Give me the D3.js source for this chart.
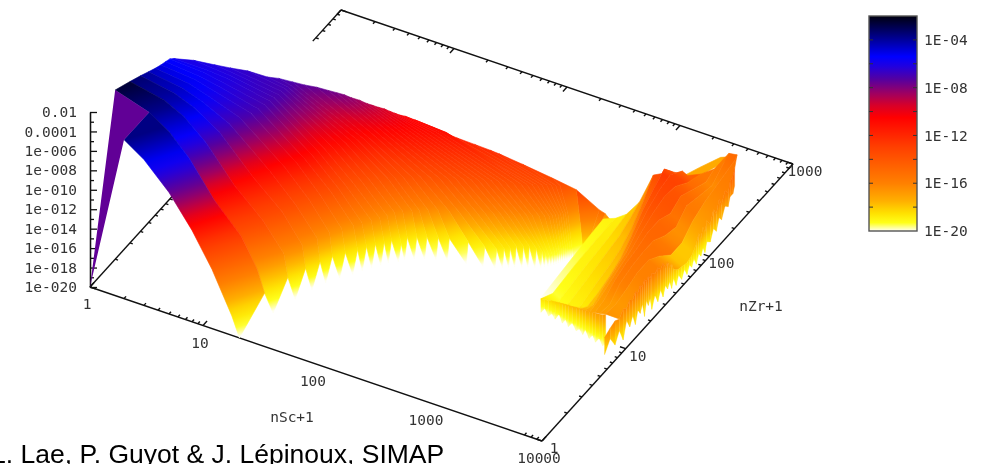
<!DOCTYPE html>
<html><head><meta charset="utf-8">
<script src="https://cdn.jsdelivr.net/npm/d3@7/dist/d3.min.js"></script>
<style>html,body{margin:0;padding:0;background:#fff;overflow:hidden}svg{display:block;filter:blur(.5px)}
text{font-family:"DejaVu Sans Mono",monospace;font-size:14.5px;fill:#333}</style></head><body>
<script>
// ---- axis labels ----
const scTickLabels=[1,10,100,1000,10000];
const zrTickLabels=[1,10,100,1000];
const zExponents=[-2,-4,-6,-8,-10,-12,-14,-16,-18,-20];
const zLabels=["0.01","0.0001","1e-006","1e-008","1e-010","1e-012","1e-014","1e-016","1e-018","1e-020"];
const barLabels=["1E-04","1E-08","1E-12","1E-16","1E-20"];
const barExponents=[-4,-8,-12,-16,-20];
// ---- colour map: exponent -> colour ----
const paletteExp=[-20,-19.3,-18.5,-17.5,-16,-13,-10.5,-9.5,-8.5,-7.3,-6.2,-5.4,-3.5,-2];
const paletteCol=["#fffff0","#ffff18","#ffe000","#ffb000","#ff8000","#ff4000","#ff0000","#d80028","#a00060","#5500a0","#2000e0","#0000ff","#000078","#000010"];
// ---- main surface: one row per nZr+1, each knot is [nSc+1, log10 value] ----
const mainZr=[1,2,3,4,5,6,7,8,9,10,11,12,13,14,15,16,17,18,19,20,21,22,23,24,25,26,27,28,29,30,31,32,33,34,35,36,37,38,39,40,41,47,60,85];
const mainRows=[
[[1,-20],[2,-3.65],[3,-5],[5,-7.5],[8,-10.6],[12,-13.9],[18,-18],[21,-20]],
[[1,-2.6],[2,-3.7],[3,-5],[4.5,-7],[7.6,-10.5],[13,-13.2],[18,-16],[21,-18.25],[25,-20]],
[[1,-3.4],[2,-4.1],[3,-5.1],[4.7,-7],[8.5,-10.5],[15,-13],[23,-15.7],[25,-18],[29,-20]],
[[1,-4],[2,-4.6],[3,-5.4],[5,-7],[10,-10.5],[18,-13],[27,-15.7],[29,-18],[33,-20]],
[[1,-4.5],[2,-5],[3,-5.7],[5.2,-7],[12,-10.5],[20,-13],[31,-15.7],[33,-18],[37,-20]],
[[1,-4.9],[2,-5.3],[3,-5.9],[5.6,-7],[14,-10.5],[23,-13],[35,-15.7],[37,-18],[43,-20]],
[[1,-5.2],[2,-5.5],[3,-6],[6.3,-7],[16,-10.5],[26,-13],[40,-15.7],[43,-18],[50,-20]],
[[1,-5.4],[2,-5.7],[3,-6.1],[6.6,-7],[17,-10.5],[29,-13],[46,-15.7],[50,-18],[55,-20]],
[[1,-5.6],[2,-5.8],[3,-6.2],[6.9,-7],[18,-10.5],[31,-13],[50,-15.7],[55,-18],[61,-20]],
[[1,-6],[2,-6],[3,-6.2],[7.1,-7],[19,-10.5],[33,-13],[56,-15.7],[61,-18],[68,-20]],
[[1.4,-6],[3,-6.3],[7.2,-7],[20,-10.5],[36,-13],[62,-15.7],[68,-18],[74,-20]],
[[2,-6.2],[3,-6.4],[7.4,-7],[22,-10.5],[40,-13],[68,-15.7],[74,-18],[85,-20]],
[[2.6,-6.4],[7.4,-7],[24,-10.5],[44,-13],[74,-15.5],[85,-18.5],[91,-20]],
[[3.5,-6.5],[7.5,-7],[26,-10.5],[50,-13],[83,-15.5],[91,-18],[105,-20]],
[[5,-6.8],[7.6,-7.1],[28,-10.5],[58,-13],[95,-15.5],[105,-18],[123,-20]],
[[6,-6.9],[7.8,-7.2],[30,-10.5],[63,-13],[105,-15.5],[123,-18],[148,-20]],
[[7.6,-7.1],[33,-10.5],[72,-13],[120,-15.5],[148,-18],[178,-20]],
[[9.3,-7.3],[35,-10.5],[83,-13],[141,-15.5],[178,-18],[251,-20]],
[[11.5,-7.4],[39,-10.5],[95,-13],[170,-15.5],[251,-18],[339,-20]],
[[14,-7.6],[42,-10.5],[112,-13],[200,-15.5],[339,-18.2],[417,-20]],
[[16,-7.8],[46,-10.5],[129,-13],[234,-15.5],[417,-18.3],[468,-20]],
[[18,-8],[49,-10.5],[148,-13],[269,-15.5],[468,-18.2],[513,-20]],
[[20,-8.3],[54,-10.5],[170,-13],[309,-15.5],[513,-18.2],[562,-20]],
[[23,-8.5],[58,-10.5],[190,-13],[355,-15.5],[562,-18],[631,-20]],
[[26,-8.8],[60,-10.5],[219,-13],[398,-15.5],[631,-18],[692,-20]],
[[28,-9],[65,-10.5],[245,-13],[447,-15.5],[692,-18],[776,-20]],
[[31,-9.2],[69,-10.5],[269,-13],[490,-15.5],[776,-18.2],[851,-20]],
[[34,-9.35],[74,-10.5],[302,-13],[550,-15.5],[851,-18.5],[891,-20]],
[[37,-9.6],[79,-10.5],[339,-13],[603,-15.5],[891,-18.8],[933,-20]],
[[40,-9.8],[85,-10.5],[380,-13],[661,-15.5],[933,-19],[966,-20]],
[[43,-10],[91,-10.5],[437,-13],[741,-15.5],[966,-19],[1000,-20]],
[[47,-10.1],[100,-10.5],[501,-13],[813,-15.5],[1000,-19],[1023,-20]],
[[56,-10.3],[107,-10.5],[550,-13],[871,-15.5],[1023,-19],[1047,-20]],
[[79,-10.6],[600,-13],[910,-15.5],[1047,-19],[1072,-20]],
[[126,-11],[650,-13],[950,-15.5],[1072,-19],[1096,-20]],
[[178,-11.2],[700,-13],[980,-15.5],[1096,-19],[1122,-20]],
[[240,-11.4],[760,-13],[1010,-15.5],[1122,-19],[1148,-20]],
[[282,-11.6],[820,-13],[1040,-15.5],[1148,-19],[1175,-20]],
[[447,-12],[880,-13],[1070,-15.5],[1175,-19],[1202,-20]],
[[794,-12.5],[940,-13],[1100,-15.5],[1202,-19],[1230,-20]],
[[1288,-13],[1400,-16.5],[1480,-19.5]],
[[1860,-15],[1600,-17.5],[1410,-19.5]],
[[1750,-16.5],[1350,-19.5]],
[[1550,-19],[1350,-20]]
];
// ---- high-nSc lobe: one row per nSc+1, each knot is [nZr+1, log10 value] ----
const lobeSc=[1300,1600,2000,2500,3200,4000,4500,5000,5600,6300,7100];
const lobeRows=[
[[16,-20],[30,-19.6],[55,-19.2],[85,-19]],
[[11.5,-18.6],[16,-19.4],[30,-19],[55,-18.8],[90,-18.8]],
[[11.2,-18.3],[13,-19.3],[22,-18.9],[30,-18.7],[55,-18.4],[90,-18]],
[[10.95,-18.1],[13,-19],[22,-18.6],[30,-18.3],[55,-17.8],[75,-17.2],[95,-16.6]],
[[10.4,-17.8],[13,-18.8],[22,-18.2],[30,-17.9],[40,-17.5],[55,-16.6],[75,-15.2],[100,-13.6]],
[[10,-17.5],[12,-18],[16,-17.8],[22,-17.4],[30,-16.8],[40,-15.8],[55,-14.4],[75,-13.4],[100,-12.6],[125,-13.8]],
[[9.7,-17.3],[12,-17.6],[16,-17],[22,-16.5],[30,-16],[40,-15],[55,-14],[75,-13.3],[100,-13],[140,-14],[160,-15]],
[[9.55,-17.2],[12,-17],[16,-16.5],[22,-16],[30,-15.5],[40,-14.8],[55,-14.2],[75,-13.8],[100,-14],[140,-15],[200,-15.6]],
[[9.35,-17],[12,-16.8],[16,-16],[22,-15.5],[30,-15.2],[40,-14.8],[55,-14.8],[75,-15.4],[100,-14.8],[140,-15.5],[200,-16.2],[250,-15.8]],
[[9.15,-16.8],[12,-17],[16,-16],[22,-15.6],[30,-15.4],[40,-15.4],[55,-16.2],[75,-16.6],[100,-15.6],[140,-16],[200,-16.4],[320,-15]],
[[9.05,-16.6],[12,-16.8],[16,-16.5],[22,-16],[30,-16],[40,-16.8],[55,-18],[75,-18],[100,-17],[140,-16.4],[200,-16],[320,-15.5],[340,-15.2]]
];
// pale rim behind the lobe's right shoulder: [nSc+1, nZr+1, log10 value]
const rimKnots=[[3100,235,-17.3],[3550,310,-17.3],[4270,430,-17.3],[6800,345,-15.5]];
const rimFoot=[[5000,140,-15],[7100,340,-15.2]];
// ---- ragged front streaks of the lobe ----
const streakSc=9500;
const streakZr=[6,7,8,9,10,11,12,13,14,15,16,17,18,19,20,21,22,24,26,28,30,32,34,36,38,40,43,46,50,54,58,62,66,70,75,80,85,90,95,100,110,120,130,140,150,165,180,190,205,215];
const streakHigh=[-16.8,-16.5,-16.3,-16.6,-16,-16.3,-15.8,-16.2,-15.6,-16,-15.5,-15.9,-15.4,-15.8,-15.5,-15.9,-15.6,-16,-15.7,-16.2,-15.8,-16.5,-16.2,-17,-16.8,-17.6,-18,-18.2,-18.3,-18.4,-18.5,-18.4,-18.3,-18,-17.6,-16.8,-17.6,-16.6,-17.4,-16.4,-17.2,-16,-16.8,-15.6,-16.4,-15.4,-16,-15,-14.8,-14.2];
const streakLow=[-18.6,-17.6,-18.8,-17.8,-19.2,-17.6,-18.6,-17.8,-19,-17.8,-18.4,-17.7,-19.2,-17.8,-18.5,-18,-19.3,-18.2,-19.2,-18.3,-19.3,-18.4,-19,-18.5,-19.4,-18.6,-19.6,-18.8,-19.6,-18.9,-19.7,-19,-19.5,-18.9,-19.7,-18.9,-19.4,-18.8,-19.5,-18.6,-19,-18,-18.6,-17.5,-18,-17,-17.4,-16.6,-16.6,-16];
const skirtSc=[1600,1750,1900,2050,2200,2400,2600,2800,3000,3300,3600,3900,4200,4500,4900,5300,5700,6200,6700,7200];
const skirtZr=[11.5,11.4,11.3,11.2,11.1,11,10.8,10.7,10.5,10.3,10.2,10,9.9,9.7,9.6,9.5,9.3,9.2,9.1,9];
const skirtHigh=[-18.6,-18.5,-18.4,-18.3,-18.2,-18.1,-18,-17.9,-17.8,-17.7,-17.6,-17.5,-17.4,-17.3,-17.2,-17.1,-17,-16.9,-16.8,-16.6];
const skirtLow=[-20,-19.4,-20,-19.6,-20,-19.3,-20,-19.5,-20,-19.4,-20,-19.6,-20,-19.3,-20,-19.5,-20,-19.4,-20,-19.7];

// ---- layout ----
const W=985,H=464;
const origin=[90,287], scVec=[452,154], zrVec=[251,-277];
const isoNormal=[.3,.95]; // colour bands on the main sheet slope gently, so its gradients run across them
// each cell is coloured by its four-corner mean, which the knots of one row alone overstate
const sheetLag=d3.scaleLinear().domain([-20,-17.5,-11.5,-8.5]).range([0,-.7,-.7,0]).clamp(true);
const sc=d3.scaleLog().domain([1,10000]).range([0,1]);
const zr=d3.scaleLog().domain([1,1000]).range([0,1]);
const zv=d3.scaleLinear().domain([-20,-2]).range([0,-175]);
const colorOf=d3.scaleLinear().domain(paletteExp).range(paletteCol).interpolate(d3.interpolateRgb).clamp(true);
const P=(s,r,e)=>[origin[0]+sc(s)*scVec[0]+zr(r)*zrVec[0], origin[1]+sc(s)*scVec[1]+zr(r)*zrVec[1]+(e===undefined?0:zv(e))];

const svg=d3.select("body").append("svg").attr("width",W).attr("height",H).attr("viewBox",`0 0 ${W} ${H}`);
svg.append("rect").attr("width",W).attr("height",H).attr("fill","#fff");
const defs=svg.append("defs");
const line=d3.line();
let gid=0;

// ---- base frame with log ticks ----
const axisG=svg.append("g").attr("stroke","#111").attr("stroke-width",1.4).attr("fill","none");
function seg(a,b){axisG.append("path").attr("d",line([a,b]));}
const scTicks=sc.ticks(), zrTicks=zr.ticks();
const isMajor=v=>Math.abs(Math.log10(v)-Math.round(Math.log10(v)))<1e-9;
const unit=(v,k)=>{const n=Math.hypot(v[0],v[1]);return [v[0]/n*k,v[1]/n*k];};
seg(P(1,1),P(10000,1)); seg(P(1,1000),P(10000,1000)); seg(P(10000,1),P(10000,1000));
seg(P(1,1),P(1,10)); seg(P(1,460),P(1,1000));
scTicks.forEach(s=>{const k=isMajor(s)?6:3;
  let d=unit(zrVec,k),a=P(s,1);
  if(s<=10||s>=7000)seg(a,[a[0]+d[0],a[1]+d[1]]);
  a=P(s,1000);seg(a,[a[0]-d[0],a[1]-d[1]]);});
zrTicks.forEach(r=>{const k=isMajor(r)?6:3;const d=unit(scVec,k);
  let a=P(10000,r);seg(a,[a[0]-d[0],a[1]-d[1]]);
  if(r<=10||r>=460){a=P(1,r);seg(a,[a[0]+d[0],a[1]+d[1]]);}});

// ---- vertical axis ----
const zAxisG=svg.append("g").attr("transform",`translate(${origin[0]},${origin[1]})`);
zAxisG.call(d3.axisLeft(zv).tickValues(zExponents).tickFormat((d,i)=>zLabels[i]).tickSizeInner(-7).tickSizeOuter(0).tickPadding(13));
zAxisG.append("g").call(d3.axisLeft(zv).tickValues(d3.range(-19,-2,2)).tickFormat("").tickSizeInner(-4).tickSizeOuter(0));
zAxisG.selectAll(".domain,line").attr("stroke","#111").attr("stroke-width",1.3);

// ---- surface ----
const surf=svg.append("g");
function gradient(a,b,offsets,exps,useLag){
  const id="g"+(gid++);
  const g=defs.append("linearGradient").attr("id",id).attr("gradientUnits","userSpaceOnUse")
    .attr("x1",a[0]).attr("y1",a[1]).attr("x2",b[0]).attr("y2",b[1]);
  const sorted=d3.range(offsets.length).sort((i,j)=>offsets[i]-offsets[j]);
  const f=d3.scaleLinear().domain(sorted.map(i=>offsets[i])).range(sorted.map(i=>exps[i])).clamp(true);
  d3.range(0,1.0001,1/24).forEach(t=>{const e=f(t);
    g.append("stop").attr("offset",t).attr("stop-color",colorOf(useLag?e+sheetLag(e):e));});
  return `url(#${id})`;
}
function ribbon(ptsA,ptsB,exps,axis){
  const a=ptsA[0],t=ptsA[ptsA.length-1];
  let dx=t[0]-a[0],dy=t[1]-a[1];
  if(axis){const k=dx*axis[0]+dy*axis[1];dx=axis[0]*k;dy=axis[1]*k;}
  const b=[a[0]+dx,a[1]+dy],L=dx*dx+dy*dy||1;
  const off=ptsA.map(p=>Math.max(0,Math.min(1,((p[0]-a[0])*dx+(p[1]-a[1])*dy)/L)));
  const fill=gradient(a,b,off,exps,!!axis);
  surf.append("path").attr("d",line(ptsA.concat(ptsB.slice().reverse()))+"Z").attr("fill",fill).attr("stroke",fill).attr("stroke-width",.6);
}
// rows nearest the back are painted first
for(let i=mainRows.length-2;i>=0;i--){
  let A=mainRows[i],B=mainRows[i+1];
  const tip=A[A.length-1][0],k=B.findIndex(d=>d[0]===tip);
  if(k>=0)B=B.slice(0,k+1);
  const axis=i<40?isoNormal:null;
  if(i===0){
    const cell=[A[0],A[1],mainRows[1][1],mainRows[1][0]];
    const pts=[P(1,mainZr[0],A[0][1]),P(2,mainZr[0],A[1][1]),P(2,mainZr[1],B[1][1]),P(1,mainZr[1],B[0][1])];
    ribbon(A.slice(1).map(d=>P(d[0],mainZr[i],d[1])),B.slice(1).map(d=>P(d[0],mainZr[i+1],d[1])),A.slice(1).map(d=>d[1]),axis);
    surf.append("path").attr("d",line(pts)+"Z").attr("fill",colorOf(d3.mean(cell,d=>d[1])));
  } else {
    ribbon(A.map(d=>P(d[0],mainZr[i],d[1])),B.map(d=>P(d[0],mainZr[i+1],d[1])),A.map(d=>d[1]),axis);
  }
}
ribbon(rimKnots.map(d=>P(d[0],d[1],d[2])),rimFoot.map(d=>P(d[0],d[1],d[2])),rimKnots.map(d=>d[2]));
for(let i=0;i<lobeRows.length-1;i++){
  const A=lobeRows[i],B=lobeRows[i+1];
  ribbon(A.map(d=>P(lobeSc[i],d[0],d[1])),B.map(d=>P(lobeSc[i+1],d[0],d[1])),A.map(d=>d[1]));
}
// last lobe row joined to the streak tops
{const A=lobeRows[lobeRows.length-1];
 ribbon(A.map(d=>P(lobeSc[lobeSc.length-1],d[0],d[1])),streakZr.filter(r=>r>=9).map(r=>P(streakSc,r,streakHigh[streakZr.indexOf(r)])),A.map(d=>d[1]));}
function hang(ptsHi,ptsLo,eHi,eLo){
  const a=[(ptsHi[0][0]+ptsHi[1][0])/2,(ptsHi[0][1]+ptsHi[1][1])/2];
  const b=[(ptsLo[0][0]+ptsLo[1][0])/2,(ptsLo[0][1]+ptsLo[1][1])/2];
  const fill=gradient(a,b,[0,1],[eHi,eLo],false);
  surf.append("path").attr("d",line(ptsHi.concat(ptsLo.slice().reverse()))+"Z").attr("fill",fill).attr("stroke",fill).attr("stroke-width",.3);
}
for(let i=0;i<skirtSc.length-1;i++)
  hang([P(skirtSc[i],skirtZr[i],skirtHigh[i]),P(skirtSc[i+1],skirtZr[i+1],skirtHigh[i+1])],
       [P(skirtSc[i],skirtZr[i],skirtLow[i]),P(skirtSc[i+1],skirtZr[i+1],skirtLow[i+1])],
       (skirtHigh[i]+skirtHigh[i+1])/2,(skirtLow[i]+skirtLow[i+1])/2);
for(let i=0;i<streakZr.length-1;i++)
  hang([P(streakSc,streakZr[i],streakHigh[i]),P(streakSc,streakZr[i+1],streakHigh[i+1])],
       [P(streakSc,streakZr[i],streakLow[i]),P(streakSc,streakZr[i+1],streakLow[i+1])],
       (streakHigh[i]+streakHigh[i+1])/2,(streakLow[i]+streakLow[i+1])/2);

// ---- tick labels ----
const lab=svg.append("g").attr("text-anchor","middle");
scTickLabels.forEach(s=>{const a=P(s,1);lab.append("text").attr("x",a[0]-3).attr("y",a[1]+22).text(s);});
zrTickLabels.forEach(r=>{const a=P(10000,r);lab.append("text").attr("x",a[0]+12).attr("y",a[1]+12).text(r);});
lab.append("text").attr("x",292).attr("y",422).text("nSc+1");
lab.append("text").attr("x",761).attr("y",311).text("nZr+1");

// ---- colour bar ----
const bar=d3.scaleLinear().domain([-20,-2]).range([231,16]);
const barG=defs.append("linearGradient").attr("id","bar").attr("x1",0).attr("y1",1).attr("x2",0).attr("y2",0);
paletteExp.forEach((e,i)=>barG.append("stop").attr("offset",(e+20)/18).attr("stop-color",paletteCol[i]));
svg.append("rect").attr("x",869).attr("y",16).attr("width",48).attr("height",215).attr("fill","url(#bar)").attr("stroke","#555").attr("stroke-width",1.4);
const minor=d3.range(-18,-2,2);
[[869,1],[917,-1]].forEach(([x,dir])=>minor.forEach(e=>svg.append("line").attr("x1",x).attr("x2",x+dir*4).attr("y1",bar(e)).attr("y2",bar(e)).attr("stroke","#333").attr("stroke-width",1)));
const barAxis=svg.append("g").attr("transform","translate(917,0)").call(d3.axisRight(bar).tickValues(barExponents).tickFormat((d,i)=>barLabels[i]).tickSize(0).tickPadding(7));
barAxis.select(".domain").remove();

// d3 axes set their own font: keep the page's
svg.selectAll("g text").style("font-family",'"DejaVu Sans Mono",monospace').style("font-size","14.5px").style("fill","#333");

// ---- credit line ----
svg.append("text").attr("x",-9).attr("y",463).style("font-family","'Liberation Sans',Arial,sans-serif").style("font-size","26.5px").style("fill","#000").text("L. Lae, P. Guyot & J. Lépinoux, SIMAP");
</script></body></html>
